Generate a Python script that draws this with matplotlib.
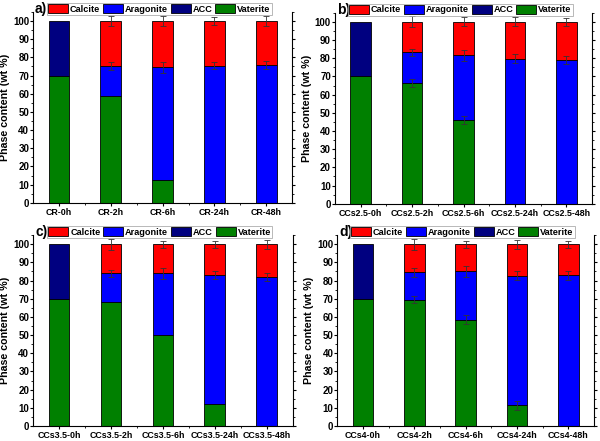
import numpy as np
import matplotlib
matplotlib.use('Agg')
import matplotlib.pyplot as plt
from matplotlib.ticker import MultipleLocator, FixedLocator

plt.rcParams['font.family'] = ['Liberation Sans', 'DejaVu Sans']
plt.rcParams['font.weight'] = 'bold'

phases = ['Calcite', 'Aragonite', 'ACC', 'Vaterite']
colors = {'Calcite': '#ff0000', 'Aragonite': '#0000ff',
          'ACC': '#000080', 'Vaterite': '#008000'}

# panel a
labels_a = ['CR-0h', 'CR-2h', 'CR-6h', 'CR-24h', 'CR-48h']
vaterite_a = [70, 59, 12.3, 0, 0]
acc_a = [30, 0, 0, 0, 0]
aragonite_a = [0, 16.3, 62.3, 75.4, 75.8]
calcite_a = [0, 24.7, 25.4, 24.6, 24.2]
vat_err_a = [0, 0, 0, 0, 0]
ara_err_a = [0, 2.3, 3, 2, 2.2]
cal_err_a = [0, 3, 2.5, 2, 3]

# panel b
labels_b = ['CCs2.5-0h', 'CCs2.5-2h', 'CCs2.5-6h', 'CCs2.5-24h', 'CCs2.5-48h']
vaterite_b = [70, 66.4, 46, 0, 0]
acc_b = [30, 0, 0, 0, 0]
aragonite_b = [0, 16.8, 35.6, 79.8, 79]
calcite_b = [0, 16.8, 18.4, 20.2, 21]
vat_err_b = [0, 2, 2, 0, 0]
ara_err_b = [0, 2, 3, 2.5, 2]
cal_err_b = [0, 3, 2.5, 2.5, 2]

# panel c
labels_c = ['CCs3.5-0h', 'CCs3.5-2h', 'CCs3.5-6h', 'CCs3.5-24h', 'CCs3.5-48h']
vaterite_c = [70, 68, 50, 12.3, 0]
acc_c = [30, 0, 0, 0, 0]
aragonite_c = [0, 16, 34, 70.7, 82]
calcite_c = [0, 16, 16, 17, 18]
vat_err_c = [0, 0, 0, 0, 0]
ara_err_c = [0, 2, 3, 2, 2]
cal_err_c = [0, 3, 2, 2, 2.5]

# panel d
labels_d = ['CCs4-0h', 'CCs4-2h', 'CCs4-6h', 'CCs4-24h', 'CCs4-48h']
vaterite_d = [70, 69.4, 58.5, 11.5, 0]
acc_d = [30, 0, 0, 0, 0]
aragonite_d = [0, 15.1, 26.5, 71.1, 83]
calcite_d = [0, 15.5, 15, 17.4, 17]
vat_err_d = [0, 2, 2.5, 2.5, 0]
ara_err_d = [0, 2.5, 3, 2.5, 2.5]
cal_err_d = [0, 3, 2, 2.5, 2]


def draw_panel(ax, tag, labels, vat, acc, ara, cal, vat_err, ara_err, cal_err):
    x = np.arange(1, len(labels) + 1)
    w = 0.4
    series = [('Vaterite', vat, vat_err), ('ACC', acc, None),
              ('Aragonite', ara, ara_err), ('Calcite', cal, cal_err)]
    bottom = np.zeros(len(x))
    handles = {}
    for name, vals, errs in series:
        vals = np.array(vals, dtype=float)
        mask = vals > 0
        h = ax.bar(x[mask], vals[mask], w, bottom=bottom[mask],
                   color=colors[name], edgecolor='black', linewidth=0.6,
                   label=name, zorder=2)
        handles[name] = h
        top = bottom + vals
        if errs is not None:
            errs = np.array(errs, dtype=float)
            m = errs > 0
            ax.errorbar(x[m], top[m], yerr=errs[m], fmt='none',
                        ecolor='#333333', elinewidth=0.6, capsize=2,
                        capthick=0.6, zorder=3)
        bottom = top

    ax.set_xlim(0.5, 5.5)
    ax.set_ylim(0, 105)
    ax.set_xticks(x)
    ax.set_xticklabels(labels, fontsize=6.4, fontweight='bold')
    ax.xaxis.set_minor_locator(FixedLocator(x[:-1] + 0.5))
    ax.set_yticks(np.arange(0, 101, 10))
    ax.yaxis.set_minor_locator(MultipleLocator(5))
    ax.tick_params(axis='y', labelsize=7, right=True, which='both', pad=0.8)
    ax.tick_params(axis='x', pad=1.5)
    ax.tick_params(which='major', length=2, width=0.8, direction='out')
    ax.tick_params(which='minor', length=1.3, width=0.6, direction='out')
    for lab in ax.get_yticklabels():
        lab.set_fontweight('bold')
    ax.spines['top'].set_visible(False)
    for s in ['left', 'right', 'bottom']:
        ax.spines[s].set_linewidth(0.8)
    ax.set_ylabel('Phase content (wt %)', fontsize=7.7, fontweight='bold',
                  labelpad=2)

    leg = ax.legend([handles[p] for p in phases], phases, loc='center',
                    bbox_to_anchor=(0.487, 1.016), ncol=4, fontsize=6.6,
                    frameon=True, fancybox=False, edgecolor='#999999',
                    handlelength=2.2, handleheight=1.1, handletextpad=0.2,
                    columnspacing=0.3, borderpad=0.12, borderaxespad=0)
    leg.get_frame().set_linewidth(0.6)
    for t in leg.get_texts():
        t.set_fontweight('bold')
    ax.text(0.008, 1.016, tag, transform=ax.transAxes, fontsize=10,
            fontweight='bold', ha='left', va='center')


fig = plt.figure(figsize=(6, 4.41), dpi=100)
ax_a = fig.add_axes([0.055, 0.540, 0.432, 0.433])
ax_b = fig.add_axes([0.558, 0.538, 0.429, 0.433])
ax_c = fig.add_axes([0.055, 0.034, 0.433, 0.433])
ax_d = fig.add_axes([0.562, 0.034, 0.428, 0.433])

draw_panel(ax_a, 'a)', labels_a, vaterite_a, acc_a, aragonite_a, calcite_a,
           vat_err_a, ara_err_a, cal_err_a)
draw_panel(ax_b, 'b)', labels_b, vaterite_b, acc_b, aragonite_b, calcite_b,
           vat_err_b, ara_err_b, cal_err_b)
draw_panel(ax_c, 'c)', labels_c, vaterite_c, acc_c, aragonite_c, calcite_c,
           vat_err_c, ara_err_c, cal_err_c)
draw_panel(ax_d, 'd)', labels_d, vaterite_d, acc_d, aragonite_d, calcite_d,
           vat_err_d, ara_err_d, cal_err_d)

fig.savefig('out.png', dpi=100)
